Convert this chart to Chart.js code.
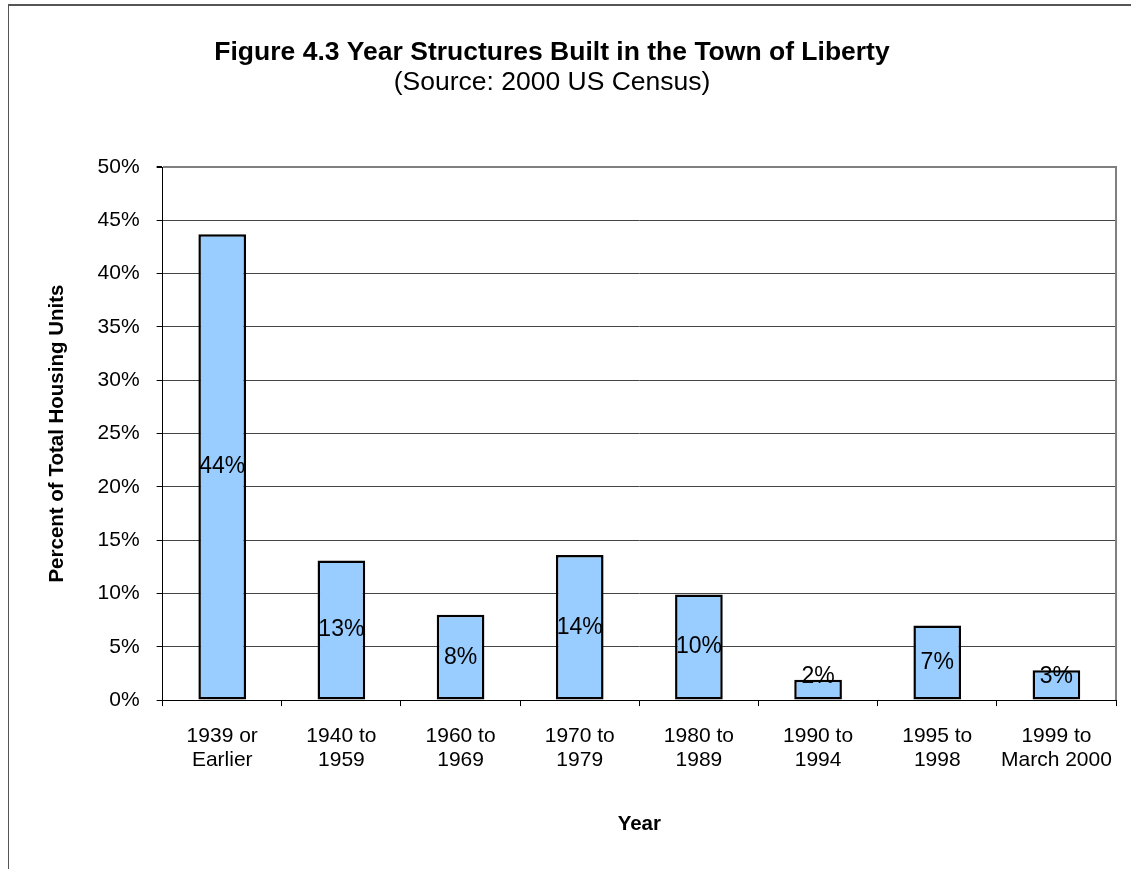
<!DOCTYPE html>
<html>
<head>
<meta charset="utf-8">
<script src="https://cdn.jsdelivr.net/npm/chart.js@4/dist/chart.umd.min.js"></script>
<style>
  html, body { margin: 0; padding: 0; background: #fff; }
  #wrap { position: relative; width: 1131px; height: 869px; overflow: hidden; }
  #frame { position: absolute; left: 8px; top: 4px; width: 1200px; height: 900px;
           border-left: 1px solid #555; border-top: 2px solid #555; pointer-events: none; }
  canvas { position: absolute; left: 0; top: 0; }
</style>
</head>
<body>
<div id="wrap">
  <canvas id="chart" width="1131" height="869"></canvas>
  <div id="frame"></div>
</div>
<script>
// data (percent of total housing units)
const categories = [
  ['1939 or', 'Earlier'],
  ['1940 to', '1959'],
  ['1960 to', '1969'],
  ['1970 to', '1979'],
  ['1980 to', '1989'],
  ['1990 to', '1994'],
  ['1995 to', '1998'],
  ['1999 to', 'March 2000']
];
const percentUnits = [43.7, 13.1, 8.0, 13.6, 9.9, 1.9, 7.0, 2.8];
const yTicks = [0, 5, 10, 15, 20, 25, 30, 35, 40, 45, 50];

const titleText = 'Figure 4.3 Year Structures Built in the Town of Liberty';
const subtitleText = '(Source: 2000 US Census)';
const FONT = '"Liberation Sans", Arial, Helvetica, sans-serif';

// titles centred on the chart frame rather than the canvas
const titlePlugin = {
  id: 'figTitle',
  afterDraw(chart) {
    const ctx = chart.ctx;
    ctx.save();
    ctx.fillStyle = '#000';
    ctx.textAlign = 'center';
    ctx.textBaseline = 'alphabetic';
    ctx.font = 'bold 26.5px ' + FONT;
    ctx.fillText(titleText, 552, 60);
    ctx.font = '26.5px ' + FONT;
    ctx.fillText(subtitleText, 552, 90);
    ctx.restore();
  }
};

// grey border on the right side of the plot area
const plotBorder = {
  id: 'plotBorder',
  beforeDatasetsDraw(chart) {
    const { ctx, chartArea } = chart;
    ctx.save();
    ctx.strokeStyle = '#808080';
    ctx.lineWidth = 2;
    ctx.beginPath();
    ctx.moveTo(chartArea.right, chartArea.top - 1);
    ctx.lineTo(chartArea.right, chartArea.bottom);
    ctx.stroke();
    ctx.restore();
  }
};

// value labels in the middle of each bar, kept clear of the axis
const barLabels = {
  id: 'barLabels',
  afterDatasetsDraw(chart) {
    const ctx = chart.ctx;
    const meta = chart.getDatasetMeta(0);
    ctx.save();
    ctx.fillStyle = '#000';
    ctx.font = '23px ' + FONT;
    ctx.textAlign = 'center';
    ctx.textBaseline = 'middle';
    meta.data.forEach(function (bar, i) {
      const v = chart.data.datasets[0].data[i];
      const y = Math.min((bar.y + bar.base) / 2, bar.base - 23);
      ctx.fillText(Math.round(v) + '%', bar.x, y);
    });
    ctx.restore();
  }
};

const ctx = document.getElementById('chart').getContext('2d');
const myChart = new Chart(ctx, {
  type: 'bar',
  data: {
    labels: categories,
    datasets: [{
      data: percentUnits,
      backgroundColor: '#99CCFF',
      borderColor: '#000',
      borderWidth: 2.5,
      borderSkipped: false,
      categoryPercentage: 1.0,
      barPercentage: 0.4
    }]
  },
  options: {
    responsive: false,
    animation: false,
    layout: { padding: { top: 167, left: 8, right: 15, bottom: 4 } },
    plugins: {
      legend: { display: false },
      title: { display: false },
      tooltip: { enabled: false }
    },
    scales: {
      x: {
        grid: {
          display: true,
          offset: true,
          drawOnChartArea: false,
          drawTicks: true,
          tickLength: 6,
          tickColor: '#000'
        },
        border: { display: true, color: '#000', width: 1 },
        ticks: {
          color: '#000',
          padding: 18,
          maxRotation: 0,
          autoSkip: false,
          font: { family: FONT, size: 21, lineHeight: 1.15 }
        },
        title: {
          display: true,
          text: 'Year',
          color: '#000',
          font: { family: FONT, size: 20.5, weight: 'bold' },
          padding: { top: 22, bottom: 28 }
        }
      },
      y: {
        min: 0,
        max: 50,
        afterBuildTicks(axis) {
          axis.ticks = yTicks.map(v => ({ value: v }));
        },
        grid: {
          color: ctx => ctx.tick && ctx.tick.value === 50 ? '#808080' : '#444',
          lineWidth: ctx => ctx.tick && ctx.tick.value === 50 ? 2 : 1,
          tickLength: 6,
          tickColor: '#000'
        },
        border: { display: true, color: '#000', width: 1 },
        ticks: {
          color: '#000',
          padding: 17,
          font: { family: FONT, size: 21 },
          callback: v => v + '%'
        },
        title: {
          display: true,
          text: 'Percent of Total Housing Units',
          color: '#000',
          font: { family: FONT, size: 20.5, weight: 'bold' },
          padding: { top: 37, bottom: 11 }
        }
      }
    }
  },
  plugins: [plotBorder, barLabels, titlePlugin]
});
</script>
</body>
</html>
